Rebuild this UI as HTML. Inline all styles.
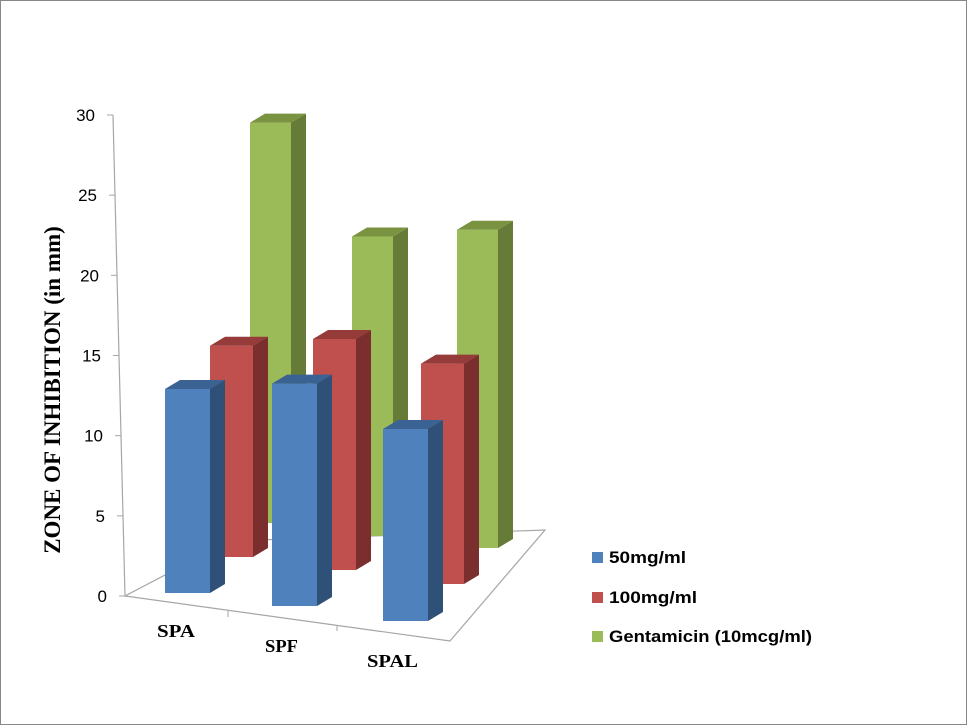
<!DOCTYPE html>
<html><head><meta charset="utf-8"><style>
body{margin:0;background:#fff}
svg{display:block}
</style></head><body>
<svg id="chart" width="968" height="726" viewBox="0 0 968 726" xmlns="http://www.w3.org/2000/svg">
<rect x="0.5" y="0.5" width="966" height="724" fill="#fff" stroke="#878787"/>
<polygon points="125,596 230,541 545,530 450,641" fill="none" stroke="#a6a6a6" stroke-width="1.2"/>
<line x1="228" y1="611" x2="228" y2="617" stroke="#a6a6a6"/>
<line x1="337" y1="625" x2="337" y2="631" stroke="#a6a6a6"/>
<line x1="113" y1="115" x2="125" y2="596" stroke="#a6a6a6" stroke-width="1.2"/>
<g id="yticks"></g>
<g id="bars"></g>
<text transform="translate(60,390) rotate(-90)" text-anchor="middle" font-family="Liberation Serif, serif" font-weight="bold" font-size="23">ZONE OF INHIBITION  (in mm)</text>
<g id="catlabels" font-family="Liberation Serif, serif" font-weight="bold" font-size="18"></g>
<g id="legend" font-family="Liberation Sans, sans-serif" font-weight="bold" font-size="17"></g>
</svg>
<script>
const categories = ["SPA", "SPF", "SPAL"];
const seriesNames = ["50mg/ml", "100mg/ml", "Gentamicin (10mcg/ml)"];
const values50 = [12.75, 13.9, 12.0];
const values100 = [13.9, 15.2, 14.5];
const valuesGent = [27.8, 20.8, 22.1];
const yTicks = [0, 5, 10, 15, 20, 25, 30];

const NS = "http://www.w3.org/2000/svg";
const allValues = [values50, values100, valuesGent];
// geometry (layout, not data)
const frontX = [[165,272,383],[210,313,421],[250,352,457]];
const baseY = [[593,606,621],[557,570,584],[523,536,548]];
const barW = [45,43,41];
const ppu = [16, 15.2, 14.4];
const colors = [["#4f81bd","#3a6394","#2f5077"],["#c0504d","#953c3a","#7a2e2d"],["#9bbb59","#7a9340","#667b37"]];
function yAxis(v){ return 596 - v*(596-115)/30; }
function xAxis(v){ return 125 - v*(125-113)/30; }

const yt = document.getElementById('yticks');
yTicks.forEach(t=>{
  const y = yAxis(t), x = xAxis(t);
  const l = document.createElementNS(NS,'line');
  l.setAttribute('x1',x-6);l.setAttribute('x2',x);l.setAttribute('y1',y);l.setAttribute('y2',y);
  l.setAttribute('stroke','#a6a6a6');
  
  
  yt.appendChild(l);
  const tx = document.createElementNS(NS,'text');
  tx.setAttribute('x',x-18);tx.setAttribute('y',y+6);tx.setAttribute('text-anchor','end');
  tx.setAttribute('font-family','Liberation Sans, sans-serif');tx.setAttribute('font-size','17');
  tx.textContent = t;
  
  
  yt.appendChild(tx);
});

const bars = document.getElementById('bars');
const dx = 15, dy = -9;
for (let s = 2; s >= 0; s--) {
  for (let c = 0; c < categories.length; c++) {
    const v = allValues[s][c];
    const x0 = frontX[s][c], x1 = x0 + barW[s], yb = baseY[s][c];
    const yt2 = yb - v*ppu[s];
    const g = document.createElementNS(NS,'g');
    
    
    const faces = [
      [[x0,yb],[x1,yb],[x1,yt2],[x0,yt2]],
      [[x1,yb],[x1+dx,yb+dy],[x1+dx,yt2+dy],[x1,yt2]],
      [[x0,yt2],[x1,yt2],[x1+dx,yt2+dy],[x0+dx,yt2+dy]]
    ];
    const fc = [colors[s][0], colors[s][2], colors[s][1]];
    faces.forEach((f,i)=>{
      const p = document.createElementNS(NS,'polygon');
      p.setAttribute('points', f.map(q=>q.join(',')).join(' '));
      p.setAttribute('fill', fc[i]);
      
      
      g.appendChild(p);
    });
    bars.appendChild(g);
  }
}

const cl = document.getElementById('catlabels');
const catPos = [[157,637,38],[265,652,33],[367,667,51]];
categories.forEach((c,i)=>{
  const t = document.createElementNS(NS,'text');
  t.setAttribute('x',catPos[i][0]);t.setAttribute('y',catPos[i][1]);
  t.setAttribute('textLength',catPos[i][2]);t.setAttribute('lengthAdjust','spacingAndGlyphs');
  t.textContent = c;
  
  
  cl.appendChild(t);
});

const lg = document.getElementById('legend');
const legY = [563, 603, 642];
const legW = [77, 88, 203];
seriesNames.forEach((n,i)=>{
  const r = document.createElementNS(NS,'rect');
  r.setAttribute('x',592);r.setAttribute('y',legY[i]-11);r.setAttribute('width',11);r.setAttribute('height',11);
  r.setAttribute('fill',colors[i][0]);
  
  
  lg.appendChild(r);
  const t = document.createElementNS(NS,'text');
  t.setAttribute('x',609);t.setAttribute('y',legY[i]);
  t.setAttribute('textLength',legW[i]);t.setAttribute('lengthAdjust','spacingAndGlyphs');
  t.textContent = n;
  
  
  lg.appendChild(t);
});
</script>
</body></html>
